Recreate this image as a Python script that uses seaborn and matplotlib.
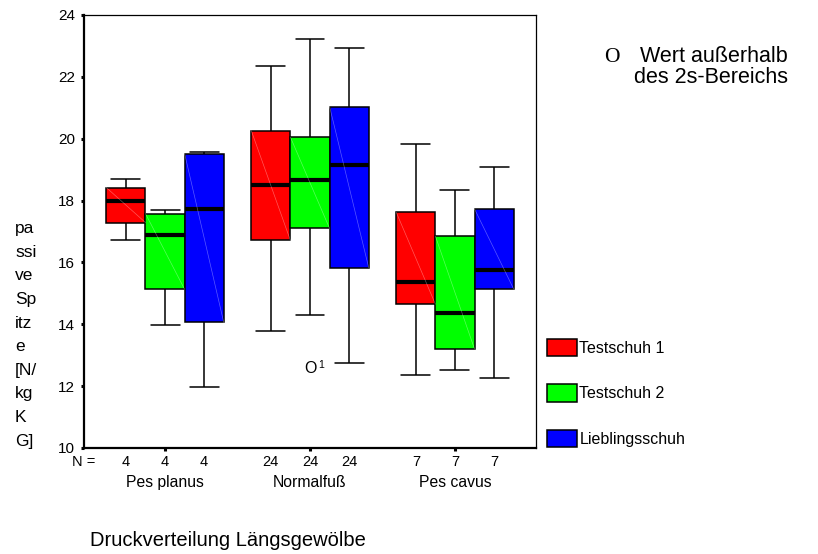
import numpy as np
import pandas as pd
import matplotlib
matplotlib.use("Agg")
import matplotlib.pyplot as plt
import seaborn as sns
from matplotlib.transforms import Bbox, blended_transform_factory

# ---------------- data ----------------
categories = ["Pes planus", "Normalfuß", "Pes cavus"]
shoes = ["Testschuh 1", "Testschuh 2", "Lieblingsschuh"]
n_counts = [4, 24, 7]

# five-number summaries per shoe (order of categories)
t1_lo = [16.71, 13.77, 12.35]
t1_q1 = [17.29, 16.71, 14.65]
t1_med = [18.00, 18.49, 15.38]
t1_q3 = [18.42, 20.26, 17.62]
t1_hi = [18.71, 22.36, 19.82]

t2_lo = [13.97, 14.31, 12.52]
t2_q1 = [15.13, 17.10, 13.20]
t2_med = [16.90, 18.68, 14.35]
t2_q3 = [17.58, 20.05, 16.85]
t2_hi = [17.68, 23.23, 18.35]

lb_lo = [11.97, 12.75, 12.27]
lb_q1 = [14.06, 15.83, 15.14]
lb_med = [17.74, 19.16, 15.75]
lb_q3 = [19.52, 21.04, 17.73]
lb_hi = [19.58, 22.94, 19.10]

outlier_cat = "Normalfuß"
outlier_val = 12.58
outlier_label = "1"

y_ticks = [10, 12, 14, 16, 18, 20, 22, 24]

colors = ["#ff0000", "#00ff00", "#0000ff"]

summaries = {
    "Testschuh 1": [t1_lo, t1_q1, t1_med, t1_q3, t1_hi],
    "Testschuh 2": [t2_lo, t2_q1, t2_med, t2_q3, t2_hi],
    "Lieblingsschuh": [lb_lo, lb_q1, lb_med, lb_q3, lb_hi],
}
rows = []
for shoe in shoes:
    for ci, cat in enumerate(categories):
        for arr in summaries[shoe]:
            rows.append({"Gruppe": cat, "Schuh": shoe, "Wert": arr[ci]})
df = pd.DataFrame(rows)

# ---------------- figure ----------------
sns.set_theme(style="white")
plt.rcParams["font.family"] = ["Liberation Sans", "DejaVu Sans"]
plt.rcParams["text.color"] = "black"
plt.rcParams["axes.labelcolor"] = "black"
plt.rcParams["xtick.color"] = "black"
plt.rcParams["ytick.color"] = "black"

W, H = 818, 554
fig = plt.figure(figsize=(W / 100, H / 100), dpi=100)
ax = fig.add_axes([84 / W, 1 - 448 / H, 452 / W, 433 / H])

sns.boxplot(
    data=df, x="Gruppe", y="Wert", hue="Schuh",
    order=categories, hue_order=shoes, palette=colors, saturation=1,
    whis=(0, 100), width=0.81, gap=0, linecolor="black", linewidth=1.1,
    fliersize=0, capwidths=0.2,
    medianprops={"linewidth": 3.0, "color": "black"},
    ax=ax,
)

# box extents (deduplicated) -> faint diagonal highlight + centers for N row
seen = {}
for p in ax.patches:
    try:
        ext = p.get_path().get_extents()
    except Exception:
        continue
    if not (0 < ext.width < 0.5 and ext.height > 0):
        continue
    key = round((ext.x0 + ext.x1) / 2, 3)
    if key in seen:
        continue
    seen[key] = True
    ax.plot([ext.x0, ext.x1], [ext.y1, ext.y0], color="white", lw=0.5,
            alpha=0.35, zorder=p.get_zorder() + 0.1)
centers = sorted(seen.keys())

ax.set_ylim(10, 24)
ax.set_xlim(-0.559, 2.559)
ax.set_yticks(y_ticks)
ax.set_yticklabels([str(t) for t in y_ticks], fontsize=11)
ax.set_xticks(range(len(categories)))
ax.set_xticklabels(categories, fontsize=11.3)
ax.tick_params(axis="y", length=2.2, width=2.2, color="black", pad=4.3,
               direction="out", left=True, labelcolor="black")
ax.tick_params(axis="x", length=2.2, width=2.2, color="black", pad=17,
               direction="out", bottom=True, labelcolor="black")

for side in ["left", "bottom"]:
    ax.spines[side].set_linewidth(1.6)
    ax.spines[side].set_color("black")
for side in ["top", "right"]:
    ax.spines[side].set_linewidth(0.9)
    ax.spines[side].set_color("black")

# N row
trans = blended_transform_factory(ax.transData, ax.transAxes)
y_n = -14 / 433
ax.text(0, y_n, "N =", transform=ax.transAxes, ha="center", va="center",
        fontsize=10.5)
for cx in centers:
    ci = min(int(round(cx)), len(categories) - 1)
    ax.text(cx, y_n, str(n_counts[ci]), transform=trans,
            ha="center", va="center", fontsize=10.5)

# outlier
ox = categories.index(outlier_cat)
ax.text(ox, outlier_val, "O", ha="center", va="center", fontsize=11.5)
ax.annotate(outlier_label, (ox, outlier_val), xytext=(6, 2),
            textcoords="offset points", ha="left", va="center", fontsize=7.5)

# axis labels
ax.set_xlabel("Druckverteilung Längsgewölbe", fontsize=14.5)
ax.xaxis.set_label_coords((228 - 84) / 452, (448 - 540) / 433)
ax.xaxis.label.set_va("center")

ax.set_ylabel("pa\nssi\nve\nSp\nitz\ne\n[N/\nkg\nK\nG]", rotation=0,
              fontsize=12.5, linespacing=1.72)
ax.yaxis.set_label_coords((15 - 84) / 452, (448 - 221) / 433)
ax.yaxis.label.set_ha("left")
ax.yaxis.label.set_va("top")
ax.yaxis.label.set_clip_on(True)
ax.yaxis.label.set_clip_box(Bbox([[0, H - 449], [W, H]]))

# legend
handles, labels = ax.get_legend_handles_labels()
ax.legend(handles, labels, loc="upper left",
          bbox_to_anchor=(547 / W, 1 - 339 / H), bbox_transform=fig.transFigure,
          frameon=False, fontsize=11.5, handlelength=1.9, handleheight=1.3,
          handletextpad=0.12, labelspacing=1.75, borderpad=0, borderaxespad=0)

# note top right
fig.text(612 / W, 1 - 62 / H, "O", family="Liberation Serif", fontsize=15.5,
         ha="center", va="baseline")
fig.text(640 / W, 1 - 62 / H, "Wert außerhalb", fontsize=15.5, ha="left",
         va="baseline")
fig.text(634 / W, 1 - 83 / H, "des 2s-Bereichs", fontsize=15.5, ha="left",
         va="baseline")

fig.savefig("out.png", dpi=100)
